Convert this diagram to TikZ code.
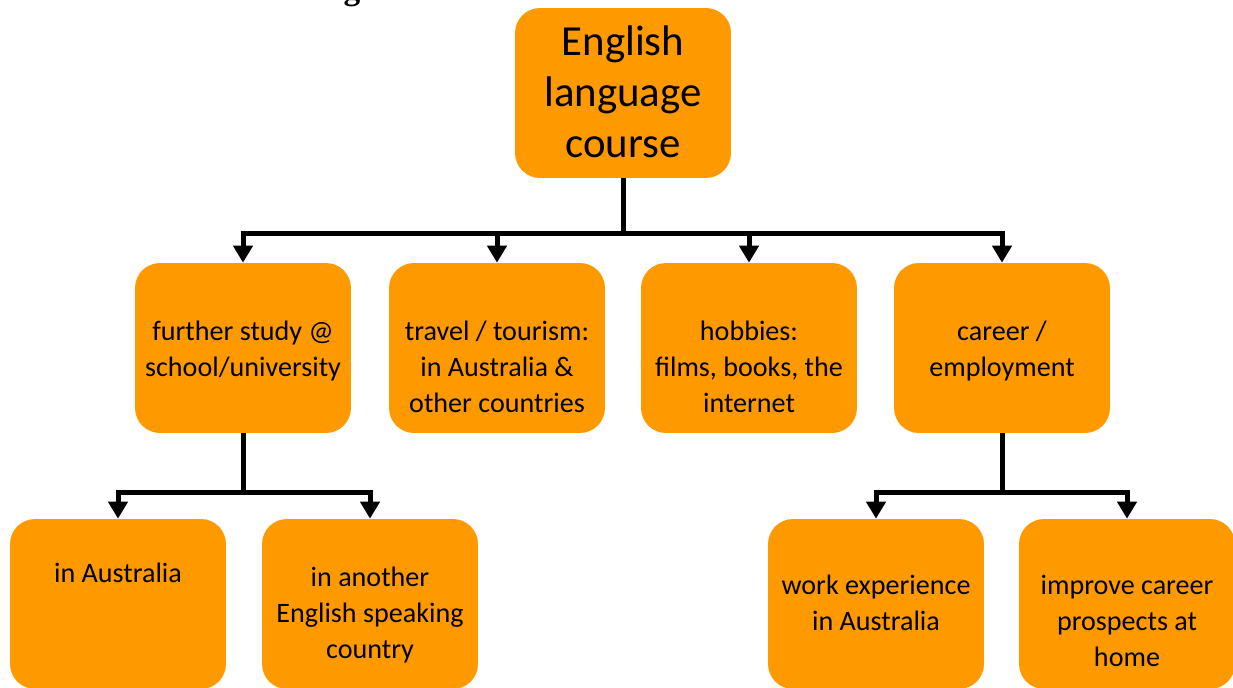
\documentclass[tikz,border=0pt]{standalone}
\usepackage{fontspec}
\setmainfont{Carlito}
\newfontfamily\titlefont{Liberation Serif}
\usetikzlibrary{arrows.meta}
\definecolor{boxorange}{RGB}{255,153,0}
\begin{document}
\begin{tikzpicture}[x=0.02cm,y=-0.02cm,
  box/.style={fill=boxorange,rounded corners=0.5cm,minimum width=4.32cm,minimum height=3.4cm,inner sep=0pt},
  txt/.style={anchor=north,align=center,inner sep=0pt,font=\fontsize{16}{20.5}\selectfont},
  link/.style={line width=0.1cm},
  arr/.style={line width=0.1cm,-{Triangle[width=0.38cm,length=0.34cm]}}]
\useasboundingbox (0,0) rectangle (1233,687);
% cut-off title
\node[font=\titlefont\bfseries\fontsize{19}{19}\selectfont,anchor=base,inner sep=0pt] (titleg) at (352,-1) {g};
% top
\node[box] (course) at (623,93) {};
\node[anchor=north,align=center,inner sep=0pt,font=\fontsize{24.4}{29}\selectfont] (coursetxt) at (623,25) {English\\language\\course};
% second row
\node[box] (study) at (243,348) {};
\node[box] (travel) at (497,348) {};
\node[box] (hobby) at (749,348) {};
\node[box] (career) at (1002,348) {};
\node[txt] (studytxt) at (243,321) {further study @\\school/university};
\node[txt] (traveltxt) at (497,321) {travel / tourism:\\in Australia \&\\other countries};
\node[txt] (hobbytxt) at (749,321) {hobbies:\\films, books, the\\internet};
\node[txt] (careertxt) at (1002,321) {career /\\employment};
% third row
\node[box] (aus) at (118,604) {};
\node[box] (other) at (370,604) {};
\node[box] (work) at (876,604) {};
\node[box] (home) at (1127,604) {};
\node[txt] (austxt) at (118,563) {in Australia};
\node[txt] (othertxt) at (370,567) {in another\\English speaking\\country};
\node[txt] (worktxt) at (876,575) {work experience\\in Australia};
\node[txt] (hometxt) at (1127,575) {improve career\\prospects at\\home};
% connectors
\coordinate (j1) at (623,233);
\coordinate (j2) at (243,492);
\coordinate (j3) at (1002,492);
\draw[link] (course.south) -- (j1);
\foreach \n in {study,travel,hobby,career}
  \draw[arr] (j1) -| (\n.north);
\draw[link] (study.south) -- (j2);
\draw[arr] (j2) -| (aus.north);
\draw[arr] (j2) -| (other.north);
\draw[link] (career.south) -- (j3);
\draw[arr] (j3) -| (work.north);
\draw[arr] (j3) -| (home.north);
\end{tikzpicture}
\end{document}
